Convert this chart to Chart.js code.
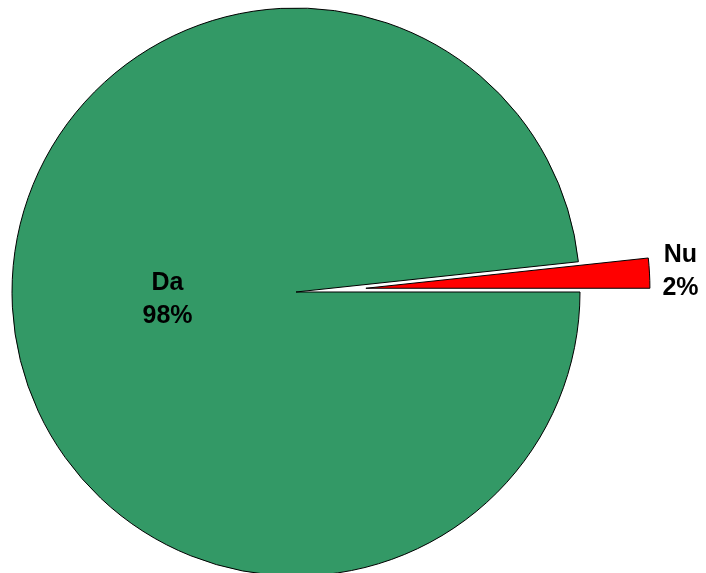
<!DOCTYPE html>
<html>
<head>
<meta charset="utf-8">
<script src="https://cdn.jsdelivr.net/npm/chart.js@4/dist/chart.umd.min.js"></script>
<style>
  html, body { margin: 0; padding: 0; background: #fff; overflow: hidden; width: 706px; height: 573px; }
  #pie-chart { position: absolute; left: 0; top: 0; }
</style>
</head>
<body>
<canvas id="pie-chart" width="706" height="600"></canvas>
<script>
const labels = ["Da", "Nu"];
const values = [98.3, 1.7];
const colors = ["#339966", "#ff0000"];
// how far each slice is pulled out from the centre (px)
const explode = [0, 70];

const total = values.reduce((a, b) => a + b, 0);

// draws slices through the arc elements, shifting exploded ones along their bisector
const explodePlugin = {
  id: "explode",
  beforeDatasetDraw(chart, args) {
    const ctx = chart.ctx;
    args.meta.data.forEach(function (arc, i) {
      const mid = (arc.startAngle + arc.endAngle) / 2;
      const d = explode[i] || 0;
      ctx.save();
      ctx.translate(Math.cos(mid) * d, Math.sin(mid) * d);
      arc.draw(ctx);
      ctx.restore();
    });
    return false;
  },
};

const labelPlugin = {
  id: "sliceLabels",
  afterDraw(chart) {
    const ctx = chart.ctx;
    const meta = chart.getDatasetMeta(0);
    ctx.save();
    ctx.font = 'bold 25px "Liberation Sans", Arial, sans-serif';
    ctx.fillStyle = "#000";
    ctx.textAlign = "center";
    ctx.textBaseline = "middle";
    meta.data.forEach(function (arc, i) {
      const mid = (arc.startAngle + arc.endAngle) / 2;
      const d = explode[i] || 0;
      const r = d > 0 ? arc.outerRadius + d + 31 : arc.outerRadius * 0.453;
      const x = arc.x + Math.cos(mid) * r;
      const y = arc.y + Math.sin(mid) * r;
      const pct = Math.round((values[i] / total) * 100);
      ctx.fillText(labels[i], x, y - 16);
      ctx.fillText(pct + "%", x, y + 17);
    });
    ctx.restore();
  },
};

const ctx = document.getElementById("pie-chart").getContext("2d");
new Chart(ctx, {
  type: "pie",
  data: {
    labels: labels,
    datasets: [
      {
        data: values,
        backgroundColor: colors,
        borderColor: "#000",
        borderWidth: 1,
      },
    ],
  },
  options: {
    responsive: false,
    animation: false,
    rotation: 90,
    layout: { padding: { left: 11.5, right: 125.5, top: 7.5, bottom: 23.5 } },
    plugins: {
      legend: { display: false },
      tooltip: { enabled: false },
    },
  },
  plugins: [explodePlugin, labelPlugin],
});
</script>
</body>
</html>
